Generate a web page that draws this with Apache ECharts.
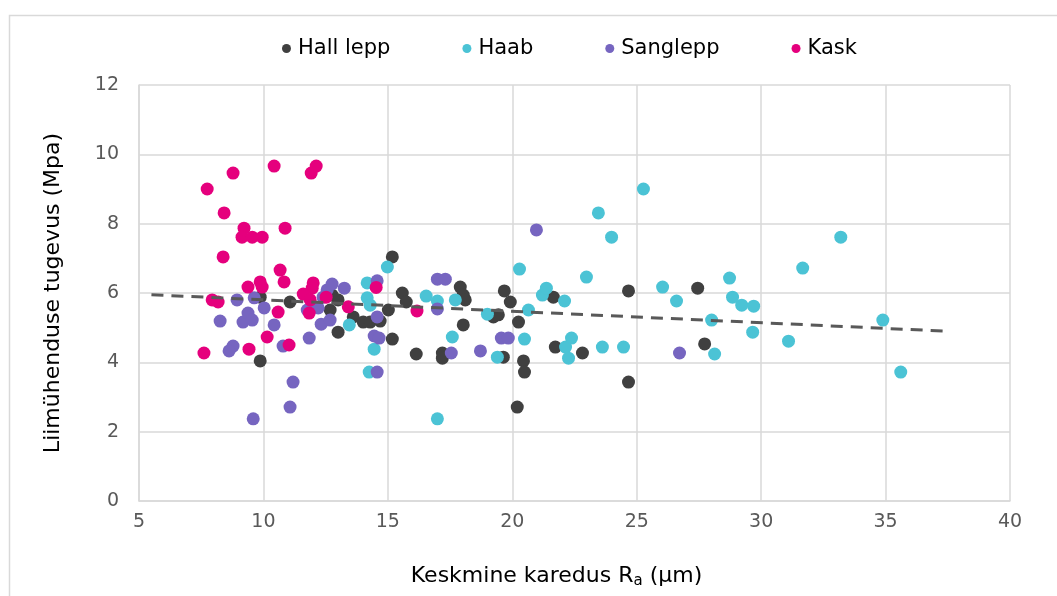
<!DOCTYPE html>
<html>
<head>
<meta charset="utf-8">
<script src="https://cdn.jsdelivr.net/npm/echarts@6/dist/echarts.min.js"></script>
<style>html,body{margin:0;padding:0;background:#fff;}#c{width:1057px;height:596px;}</style>
</head>
<body>
<div id="c"></div>
<script>
var seriesNames = ['Hall lepp', 'Haab', 'Sanglepp', 'Kask'];
var xTicks = [5, 10, 15, 20, 25, 30, 35, 40];
var yTicks = [0, 2, 4, 6, 8, 10, 12];

var hallLeppX = [9.87, 9.87, 11.07, 12.76, 13.0, 12.68, 13.61, 13.0, 14.01, 14.29, 14.69, 15.02, 15.18, 15.58, 15.74, 15.18, 16.14, 17.19, 17.19, 17.91, 18.03, 18.11, 18.03, 19.24, 19.44, 19.68, 19.92, 20.25, 19.64, 20.45, 20.49, 20.2, 21.65, 21.73, 22.82, 24.67, 24.67, 27.45, 27.73];
var hallLeppY = [5.88, 4.04, 5.74, 5.94, 5.8, 5.51, 5.31, 4.87, 5.16, 5.16, 5.19, 5.51, 7.04, 6.0, 5.74, 4.67, 4.24, 4.27, 4.12, 6.17, 5.94, 5.8, 5.08, 5.31, 5.37, 6.06, 5.74, 5.16, 4.15, 4.04, 3.72, 2.71, 5.88, 4.44, 4.27, 6.06, 3.43, 6.14, 4.53];

var haabX = [14.98, 14.17, 14.17, 14.29, 13.45, 14.45, 14.25, 16.54, 16.99, 17.71, 17.59, 16.99, 19.0, 19.4, 20.29, 20.65, 20.49, 21.21, 21.37, 22.1, 22.98, 22.14, 22.38, 22.26, 23.62, 24.47, 23.46, 23.99, 25.27, 26.04, 26.6, 28.73, 28.85, 29.22, 29.7, 29.66, 28.01, 28.13, 31.67, 33.2, 31.1, 34.89, 35.61];
var haabY = [6.75, 6.29, 5.86, 5.65, 5.08, 4.38, 3.72, 5.91, 5.77, 5.8, 4.73, 2.37, 5.39, 4.15, 6.69, 5.51, 4.67, 5.94, 6.14, 5.77, 6.46, 4.44, 4.7, 4.12, 4.44, 4.44, 8.31, 7.61, 9.0, 6.17, 5.77, 6.43, 5.88, 5.65, 5.62, 4.87, 5.22, 4.24, 6.72, 7.61, 4.61, 5.22, 3.72];

var sangleppX = [8.94, 8.26, 9.18, 9.38, 9.55, 10.03, 9.63, 10.43, 8.78, 8.62, 10.79, 11.19, 11.07, 9.59, 11.76, 12.2, 12.32, 11.84, 12.68, 12.56, 12.76, 13.25, 12.4, 14.57, 14.57, 14.45, 14.65, 14.57, 16.99, 17.31, 16.99, 17.55, 18.72, 19.56, 19.84, 20.97, 26.72];
var sangleppY = [5.8, 5.19, 5.16, 5.42, 5.22, 5.57, 5.86, 5.08, 4.47, 4.33, 4.47, 3.43, 2.71, 2.37, 5.51, 5.57, 5.1, 4.7, 5.22, 6.09, 6.26, 6.14, 5.88, 6.35, 5.31, 4.76, 4.7, 3.72, 6.4, 6.4, 5.54, 4.27, 4.33, 4.7, 4.7, 7.82, 4.27];

var kaskX = [7.74, 8.78, 8.42, 9.22, 9.14, 9.55, 9.95, 10.87, 10.43, 11.92, 12.12, 8.38, 10.67, 10.83, 9.87, 9.95, 9.38, 7.94, 8.18, 12.0, 11.96, 11.6, 11.88, 12.52, 13.41, 11.84, 10.59, 10.15, 11.03, 9.42, 7.61, 14.53, 16.17];
var kaskY = [9.0, 9.46, 8.31, 7.87, 7.61, 7.61, 7.61, 7.87, 9.66, 9.46, 9.66, 7.04, 6.66, 6.32, 6.32, 6.17, 6.17, 5.8, 5.74, 6.29, 6.14, 5.97, 5.8, 5.88, 5.6, 5.42, 5.45, 4.73, 4.5, 4.38, 4.27, 6.16, 5.48];

var trendX = [5.5, 37.4];
var trendY = [5.95, 4.9];

function pairs(xs, ys) { return xs.map(function (x, i) { return [x, ys[i]]; }); }

var colors = ['#404040', '#4bc3d5', '#7665c0', '#e5007d'];
var fontFam = '"DejaVu Sans", Verdana, sans-serif';

var chart = echarts.init(document.getElementById('c'), null, { renderer: 'canvas' });
chart.setOption({
  animation: false,
  backgroundColor: '#ffffff',
  graphic: [{
    type: 'rect', left: 7, top: 13,
    shape: { width: 1060, height: 600 },
    style: { fill: 'none', stroke: '#d9d9d9', lineWidth: 1.5 },
    silent: true, z: -1
  }],
  legend: {
    top: 33,
    left: 277,
    itemGap: 72,
    itemWidth: 9,
    itemHeight: 9,
    icon: 'circle',
    textStyle: { fontFamily: fontFam, fontSize: 21, color: '#000000', padding: [0, 0, 0, 2] },
    data: seriesNames
  },
  grid: { left: 139, right: 47, top: 85, bottom: 95, containLabel: false },
  xAxis: {
    type: 'value', min: xTicks[0], max: xTicks[xTicks.length - 1], interval: 5,
    name: 'Keskmine karedus R{sub|a} (µm)',
    nameLocation: 'middle', nameGap: 62,
    nameTextStyle: {
      fontFamily: fontFam, fontSize: 22, color: '#000000', padding: [0, 36, 0, 0],
      rich: { sub: { fontFamily: fontFam, fontSize: 15, color: '#000000', verticalAlign: 'bottom', padding: [11, 0, 0, 0] } }
    },
    axisLine: { show: true, lineStyle: { color: '#d9d9d9', width: 1.5 } },
    axisTick: { show: false },
    axisLabel: { fontFamily: fontFam, fontSize: 19, color: '#595959', margin: 12 },
    splitLine: { show: true, lineStyle: { color: '#d9d9d9', width: 1.5 } }
  },
  yAxis: {
    type: 'value', min: yTicks[0], max: yTicks[yTicks.length - 1], interval: 2,
    name: 'Liimühenduse tugevus (Mpa)',
    nameLocation: 'middle', nameGap: 75, nameRotate: 90,
    nameTextStyle: { fontFamily: fontFam, fontSize: 22, color: '#000000' },
    axisLine: { show: true, lineStyle: { color: '#d9d9d9', width: 1.5 } },
    axisTick: { show: false },
    axisLabel: { fontFamily: fontFam, fontSize: 19, color: '#595959', margin: 20 },
    splitLine: { show: true, lineStyle: { color: '#d9d9d9', width: 1.5 } }
  },
  series: [
    { name: seriesNames[0], type: 'scatter', symbolSize: 13, itemStyle: { color: colors[0], opacity: 1 }, data: pairs(hallLeppX, hallLeppY), z: 3 },
    { name: seriesNames[1], type: 'scatter', symbolSize: 13, itemStyle: { color: colors[1], opacity: 1 }, data: pairs(haabX, haabY), z: 3 },
    { name: seriesNames[2], type: 'scatter', symbolSize: 13, itemStyle: { color: colors[2], opacity: 1 }, data: pairs(sangleppX, sangleppY), z: 3 },
    { name: seriesNames[3], type: 'scatter', symbolSize: 13, itemStyle: { color: colors[3], opacity: 1 }, data: pairs(kaskX, kaskY), z: 3 },
    { name: 'trend', type: 'line', data: pairs(trendX, trendY), symbol: 'none', silent: true, z: 4,
      lineStyle: { color: '#595959', width: 3, type: [12, 8] } }
  ]
});
</script>
</body>
</html>
